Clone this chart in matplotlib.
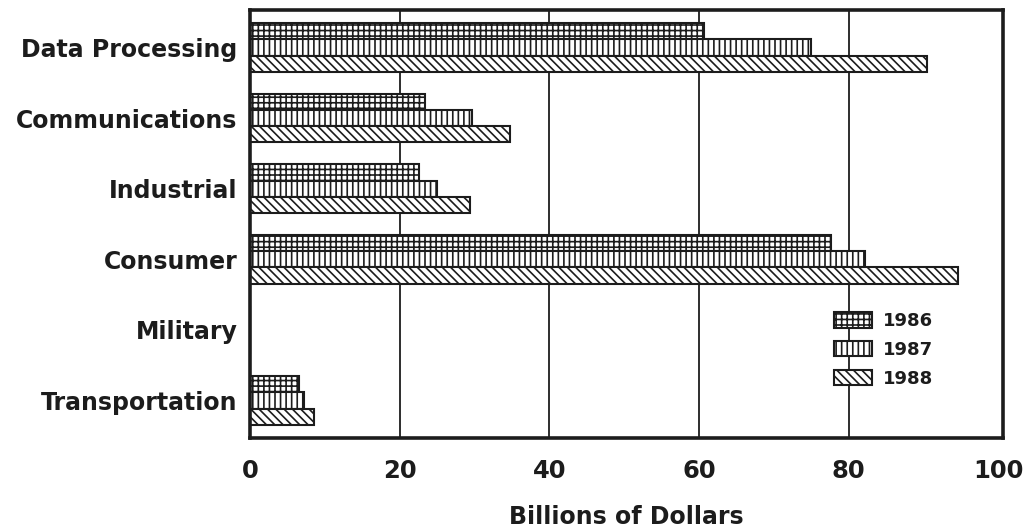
import numpy as np
import matplotlib
matplotlib.use("Agg")
import matplotlib.pyplot as plt
from matplotlib.transforms import ScaledTranslation

# Semiconductor demand by end-use market (billions of dollars)
categories = ["Data Processing", "Communications", "Industrial",
              "Consumer", "Military", "Transportation"]
years = ["1986", "1987", "1988"]
values_1986 = [60.6, 23.4, 22.6, 77.6, 0.0, 6.6]
values_1987 = [74.9, 29.7, 25.0, 82.1, 0.0, 7.2]
values_1988 = [90.4, 34.8, 29.4, 94.6, 0.0, 8.5]
x_ticks = [0, 20, 40, 60, 80, 100]

ink = "#1c1c1c"
plt.rcParams["font.family"] = ["DejaVu Sans"]
plt.rcParams["font.weight"] = "bold"
plt.rcParams["axes.labelweight"] = "bold"
plt.rcParams["hatch.linewidth"] = 1.2
plt.rcParams["hatch.color"] = ink

fig = plt.figure(figsize=(10.25, 5.31), dpi=100)
ax = fig.add_axes([250 / 1025, 1 - 438 / 531, (1003 - 250) / 1025, (438 - 10) / 531])

series = [values_1986, values_1987, values_1988]
hatches = ["+++", "|||", "\\\\\\\\"]
h = 0.23
y = np.arange(len(categories))
for i, (vals, hatch, lab) in enumerate(zip(series, hatches, years)):
    ax.barh(y + (i - 1) * h, vals, height=h, facecolor="white",
            edgecolor=ink, linewidth=1.5, hatch=hatch, label=lab, zorder=2)

ax.set_xlim(0, 100.6)
ax.set_ylim(len(categories) - 0.47, -0.53)
ax.set_yticks(y)
ax.set_yticklabels(categories, fontsize=17, color=ink)
# category names sit slightly below the middle of their bar group
shift = ScaledTranslation(0, -3 / 100, fig.dpi_scale_trans)
for lbl in ax.get_yticklabels():
    lbl.set_transform(lbl.get_transform() + shift)
ax.set_xticks(x_ticks)
ax.set_xticklabels([str(t) for t in x_ticks], fontsize=17.5, color=ink)
ax.tick_params(axis="y", length=0, pad=9)
ax.tick_params(axis="x", length=0, pad=15)
ax.set_xlabel("Billions of Dollars", fontsize=17, color=ink, labelpad=16)

ax.set_axisbelow(True)
ax.grid(axis="x", color=ink, linewidth=1.3)
# no separate grid line at 100: the frame closes the plot there
ax.get_xgridlines()[-1].set_visible(False)
for s in ax.spines.values():
    s.set_linewidth(2.6)
    s.set_color(ink)

leg = fig.legend(loc="upper left", bbox_to_anchor=(834 / 1025, 1 - 312 / 531),
                 frameon=False, fontsize=13, handlelength=2.1, handleheight=0.95,
                 handletextpad=0.6, labelspacing=0.6, borderpad=0,
                 borderaxespad=0)
for t in leg.get_texts():
    t.set_color(ink)

fig.savefig("out.png", dpi=100)
